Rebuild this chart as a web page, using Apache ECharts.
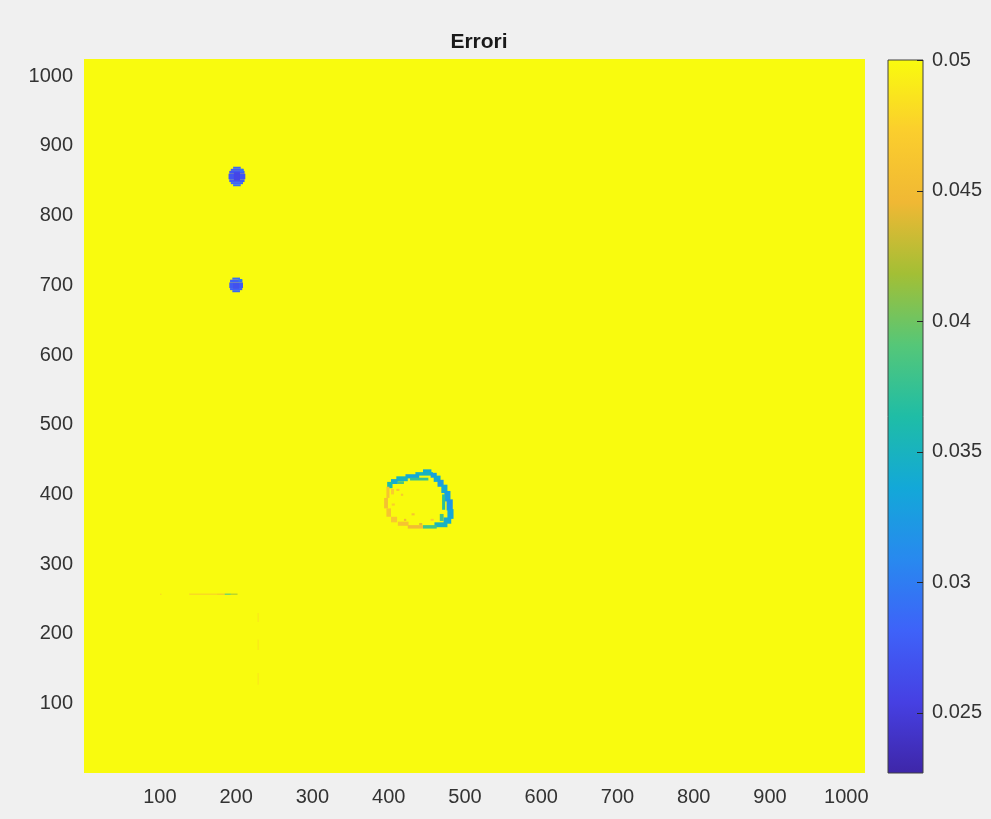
<!DOCTYPE html>
<html>
<head>
<meta charset="utf-8">
<title>Errori</title>
<script src="https://cdn.jsdelivr.net/npm/echarts@6/dist/echarts.min.js"></script>
<style>
  html, body { margin: 0; padding: 0; background: #f0f0f0; }
  #cnv { width: 991px; height: 819px; }
</style>
</head>
<body>
<div id="cnv"></div>
<script>
// valori: ogni cella e' [x0, x1, y0, y1, errore]
var xTicks = [100, 200, 300, 400, 500, 600, 700, 800, 900, 1000];
var yTicks = [100, 200, 300, 400, 500, 600, 700, 800, 900, 1000];
var cbarTicks = [0.025, 0.03, 0.035, 0.04, 0.045, 0.05];
var cMin = 0.0227, cMax = 0.05;

// fondo (saturato a 0.05)
var sfondo = [[0.5, 1024.5, 0.5, 1024.5, 0.05]];

// macchia in alto (~200, 856)
var macchiaAlta = [
    [196, 206, 867, 870, 0.0285],
    [193, 209, 864, 867, 0.0278],
    [191, 211, 860, 864, 0.0272],
    [190, 212, 852, 860, 0.0272],
    [191, 211, 848, 852, 0.0276],
    [193, 209, 845, 848, 0.0282],
    [196, 206, 842, 845, 0.0290],
    [197, 205, 850, 862, 0.0258],
    [205, 210, 862, 867, 0.0292]
];

// macchia in basso (~200, 701)
var macchiaBassa = [
    [195, 205, 708, 711, 0.0290],
    [192, 208, 704, 708, 0.0280],
    [191, 209, 696, 704, 0.0276],
    [192, 208, 693, 696, 0.0280],
    [195, 205, 690, 693, 0.0286],
    [196, 204, 695, 703, 0.0268],
    [203, 208, 705, 709, 0.0300]
];

// anello (~440, 395)
var anello = [
    [445, 456, 430, 436, 0.0340],
    [435, 458, 427, 432, 0.0350],
    [422, 440, 423, 429, 0.0335],
    [410, 425, 419, 426, 0.0350],
    [403, 412, 415, 422, 0.0340],
    [398, 405, 409, 418, 0.0360],
    [455, 463, 424, 431, 0.0330],
    [459, 468, 418, 427, 0.0340],
    [464, 472, 411, 421, 0.0325],
    [469, 477, 402, 414, 0.0340],
    [473, 481, 390, 405, 0.0330],
    [476, 484, 377, 393, 0.0320],
    [477, 485, 365, 379, 0.0335],
    [472, 482, 358, 367, 0.0340],
    [460, 477, 353, 360, 0.0350],
    [445, 463, 351, 356, 0.0380],
    [425, 445, 351, 356, 0.0450],
    [412, 426, 355, 361, 0.0460],
    [397, 401, 395, 411, 0.0460],
    [394, 399, 380, 395, 0.0455],
    [397, 403, 368, 380, 0.0460],
    [403, 411, 360, 368, 0.0465],
    [410, 414, 405, 408, 0.0460],
    [416, 419, 398, 401, 0.0465],
    [430, 434, 370, 373, 0.0460],
    [420, 423, 362, 365, 0.0450],
    [404, 408, 384, 387, 0.0470],
    [455, 459, 362, 365, 0.0470],
    // bordo interno sfumato
    [428, 452, 420, 424, 0.0375],
    [412, 420, 415, 419, 0.0385],
    [470, 474, 378, 400, 0.0370],
    [467, 472, 362, 372, 0.0380],
    [403, 407, 400, 408, 0.0470],
    [440, 444, 356, 359, 0.0440]
];

// linea orizzontale (~y 257) e tratti verticali chiari (~x 229)
var linea = [
    [100.5, 102, 256.3, 257.7, 0.0465],
    [138.5, 175, 256.3, 257.7, 0.0465],
    [175, 185, 256.3, 257.7, 0.0450],
    [185, 193, 256.3, 257.7, 0.0375],
    [193, 201.8, 256.3, 257.7, 0.0415],
    [228.2, 229.4, 217, 230, 0.0485],
    [228.2, 229.4, 177, 192, 0.0485],
    [228.2, 229.4, 127, 144, 0.0485]
];

var celle = sfondo.concat(macchiaAlta, macchiaBassa, anello, linea);

var parula = ['#3e26a8', '#4640e3', '#3e62f9', '#2889ef', '#13a8d8', '#1fbda6',
              '#55c778', '#a3bf35', '#f0b834', '#fbce2d', '#f9fb0e'];

var font = 'Liberation Sans, Arial, Helvetica, sans-serif';
var grigio = '#333333';

function disegnaCella(params, api) {
    var p0 = api.coord([api.value(0), api.value(3)]);
    var p1 = api.coord([api.value(1), api.value(2)]);
    return {
        type: 'rect',
        shape: { x: p0[0], y: p0[1], width: p1[0] - p0[0], height: p1[1] - p0[1] },
        style: { fill: api.visual('color') }
    };
}

// barra dei colori con le tacche sul bordo destro
function disegnaBarra(params, api) {
    var p0 = api.coord([api.value(0), api.value(3)]);
    var p1 = api.coord([api.value(1), api.value(2)]);
    var stops = parula.map(function (c, i) { return { offset: i / (parula.length - 1), color: c }; });
    var figli = [{
        type: 'rect',
        shape: { x: p0[0], y: p0[1], width: p1[0] - p0[0], height: p1[1] - p0[1] },
        style: { fill: new echarts.graphic.LinearGradient(0, 1, 0, 0, stops), stroke: '#404040', lineWidth: 1 }
    }];
    cbarTicks.forEach(function (t) {
        var y = Math.round(api.coord([1, t])[1]) + 0.5;
        figli.push({
            type: 'line',
            shape: { x1: p1[0] - 6, y1: y, x2: p1[0], y2: y },
            style: { stroke: '#262626', lineWidth: 1 }
        });
    });
    return { type: 'group', children: figli };
}

var main = document.getElementById('cnv');
var myechart = echarts.init(main, null, { renderer: 'canvas' });
var option = {
    backgroundColor: '#f0f0f0',
    animation: false,
    title: {
        text: 'Errori',
        left: 474,
        top: 27,
        textAlign: 'center',
        textStyle: { fontFamily: font, fontSize: 21, fontWeight: 'bold', color: '#1a1a1a' }
    },
    grid: [
        { left: 84, top: 59, width: 781, height: 714 },
        { left: 888, top: 60, width: 35, height: 713 }
    ],
    xAxis: [
        {
            gridIndex: 0, type: 'value', min: 0.5, max: 1024.5,
            splitLine: { show: false }, axisLine: { show: false }, axisTick: { show: false },
            axisLabel: { customValues: xTicks, margin: 14, fontFamily: font, fontSize: 20, color: grigio,
                formatter: function (v) { return String(v); } }
        },
        { gridIndex: 1, type: 'value', min: 0, max: 1, show: false }
    ],
    yAxis: [
        {
            gridIndex: 0, type: 'value', min: 0.5, max: 1024.5,
            splitLine: { show: false }, axisLine: { show: false }, axisTick: { show: false },
            axisLabel: { customValues: yTicks, margin: 11, fontFamily: font, fontSize: 20, color: grigio,
                formatter: function (v) { return String(v); } }
        },
        {
            gridIndex: 1, type: 'value', min: cMin, max: cMax, position: 'right',
            splitLine: { show: false }, axisLine: { show: false }, axisTick: { show: false },
            axisLabel: {
                customValues: cbarTicks, margin: 9, fontFamily: font, fontSize: 20, color: grigio,
                formatter: function (v) { return String(+v.toFixed(3)); }
            }
        }
    ],
    visualMap: {
        type: 'continuous', show: false, seriesIndex: 0, dimension: 4,
        min: cMin, max: cMax, inRange: { color: parula }
    },
    series: [
        {
            type: 'custom', xAxisIndex: 0, yAxisIndex: 0, clip: true,
            encode: { x: [0, 1], y: [2, 3] },
            renderItem: disegnaCella,
            data: celle
        },
        {
            type: 'custom', xAxisIndex: 1, yAxisIndex: 1, silent: true,
            encode: { x: [0, 1], y: [2, 3] },
            renderItem: disegnaBarra,
            data: [[0, 1, cMin, cMax]]
        }
    ]
};
//将配置项添加echarts对象中
myechart.setOption(option);
</script>
</body>
</html>
